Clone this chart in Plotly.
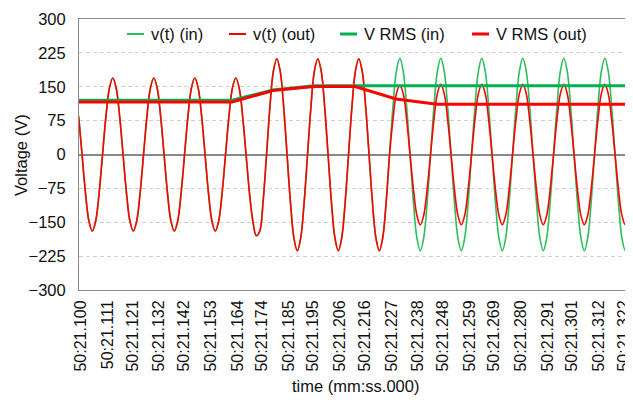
import plotly.graph_objects as go

# ---- data ----
SAMPLE_START_MS = 99.03      # time of first sample, ms after 50:21.000
SAMPLE_STEP_MS = 1.398       # sampling interval (12 samples per mains cycle)

v_in = [
    84.8, 0, -84.8, -146.8, -169.5, -146.8, -84.8, 0, 84.8, 146.8, 169.5, 146.8,
    84.8, 0, -84.8, -146.8, -169.5, -146.8, -84.8, 0, 84.8, 146.8, 169.5, 146.8,
    84.8, 0, -84.8, -146.8, -169.5, -146.8, -84.8, 0, 84.8, 146.8, 169.5, 146.8,
    84.8, 0, -84.8, -146.8, -169.5, -146.8, -84.8, 0, 84.8, 146.8, 169.5, 146.8,
    84.8, 0, -85.0, -148.0, -180.0, -170.0, -103.0, 0, 106.5, 184.5, 212.0, 184.5,
    106.5, 0, -106.5, -184.5, -213.0, -184.5, -106.5, 0, 106.5, 184.5, 212.0, 184.5,
    106.5, 0, -106.5, -184.5, -213.0, -184.5, -106.5, 0, 106.5, 184.5, 212.0, 184.5,
    106.5, 0, -106.5, -184.5, -213.0, -184.5, -106.5, 0, 106.5, 184.5, 213.0, 184.5,
    106.5, 0, -106.5, -184.5, -213.0, -184.5, -106.5, 0, 106.5, 184.5, 213.0, 184.5,
    106.5, 0, -106.5, -184.5, -213.0, -184.5, -106.5, 0, 106.5, 184.5, 213.0, 184.5,
    106.5, 0, -106.5, -184.5, -213.0, -184.5, -106.5, 0, 106.5, 184.5, 213.0, 184.5,
    106.5, 0, -106.5, -184.5, -213.0, -184.5, -106.5, 0, 106.5, 184.5, 213.0, 184.5,
    106.5, 0, -106.5, -184.5, -213.0, -184.5, -106.5, 0, 106.5, 184.5, 213.0, 184.5,
    106.5, 0, -106.5, -184.5, -213.0, -184.5, -106.5, 0, 106.5,
]

v_out = [
    84.8, 0, -84.8, -146.8, -169.5, -146.8, -84.8, 0, 84.8, 146.8, 169.5, 146.8,
    84.8, 0, -84.8, -146.8, -169.5, -146.8, -84.8, 0, 84.8, 146.8, 169.5, 146.8,
    84.8, 0, -84.8, -146.8, -169.5, -146.8, -84.8, 0, 84.8, 146.8, 169.5, 146.8,
    84.8, 0, -84.8, -146.8, -169.5, -146.8, -84.8, 0, 84.8, 146.8, 169.5, 146.8,
    84.8, 0, -85.0, -148.0, -180.0, -170.0, -103.0, 0, 106.5, 184.5, 212.0, 184.5,
    106.5, 0, -106.5, -184.5, -213.0, -184.5, -106.5, 0, 106.5, 184.5, 212.0, 184.5,
    106.5, 0, -106.5, -184.5, -213.0, -184.5, -106.5, 0, 106.5, 184.5, 212.0, 184.5,
    106.5, 0, -106.5, -184.5, -213.0, -184.5, -106.5, 0, 77.8, 134.7, 153.0, 134.7,
    77.8, 0, -77.8, -134.7, -156.0, -134.7, -77.8, 0, 77.8, 134.7, 155.5, 134.7,
    77.8, 0, -77.8, -134.7, -155.5, -134.7, -77.8, 0, 77.8, 134.7, 155.5, 134.7,
    77.8, 0, -77.8, -134.7, -155.5, -134.7, -77.8, 0, 77.8, 134.7, 155.5, 134.7,
    77.8, 0, -77.8, -134.7, -155.5, -134.7, -77.8, 0, 77.8, 134.7, 155.5, 134.7,
    77.8, 0, -77.8, -134.7, -155.5, -134.7, -77.8, 0, 77.8, 134.7, 155.5, 134.7,
    77.8, 0, -77.8, -134.7, -155.5, -134.7, -77.8, 0, 77.8,
]

# RMS values, one per cycle (ms after 50:21.000)
rms_time = [94.70, 111.47, 128.25, 145.02, 161.80, 178.58, 195.35, 212.13,
            228.90, 245.68, 262.46, 279.23, 296.00, 312.79, 329.57]
rms_in = [120.0, 120.0, 120.0, 120.0, 120.0, 143.0, 152.0, 152.0,
          152.0, 152.0, 152.0, 152.0, 152.0, 152.0, 152.0]
rms_out = [116.5, 116.5, 116.5, 116.5, 116.5, 141.5, 150.5, 150.5,
           123.0, 111.5, 111.5, 111.5, 111.5, 111.5, 111.5]

x_tick_labels = ["50:21.100", "50:21.111", "50:21.121", "50:21.132", "50:21.142",
                 "50:21.153", "50:21.164", "50:21.174", "50:21.185", "50:21.195",
                 "50:21.206", "50:21.216", "50:21.227", "50:21.238", "50:21.248",
                 "50:21.259", "50:21.269", "50:21.280", "50:21.291", "50:21.301",
                 "50:21.312", "50:21.322"]
y_ticks = [-300, -225, -150, -75, 0, 75, 150, 225, 300]
series_names = ["v(t) (in)", "v(t) (out)", "V RMS (in)", "V RMS (out)"]

# ---- figure ----
t = [SAMPLE_START_MS + i * SAMPLE_STEP_MS for i in range(len(v_in))]
tick_pos = [float(lbl.split(".")[1]) for lbl in x_tick_labels]

GREEN_THIN = "#2DBE5C"
GREEN = "#00B050"
RED = "#FF0000"
FONT = "Liberation Sans, Arial, sans-serif"
TXT = "#111111"

styles = [dict(color=GREEN_THIN, width=1.6), dict(color=RED, width=1.6),
          dict(color=GREEN, width=3), dict(color=RED, width=3)]

fig = go.Figure()
fig.add_trace(go.Scatter(x=t, y=v_in, name=series_names[0], mode="lines",
                         line=dict(**styles[0], shape="spline")))
fig.add_trace(go.Scatter(x=t, y=v_out, name=series_names[1], mode="lines",
                         line=dict(**styles[1], shape="spline")))
fig.add_trace(go.Scatter(x=rms_time, y=rms_in, name=series_names[2], mode="lines",
                         line=styles[2]))
fig.add_trace(go.Scatter(x=rms_time, y=rms_out, name=series_names[3], mode="lines",
                         line=styles[3]))

# page body has an 8px margin: size the figure so it fits the 633x405 window
OFF = 8
W, H = 633 - OFF, 405 - OFF
# plot area in window pixels: x 79..632, y 19..290
ML, MT = 79 - OFF, 19 - OFF
MR = W - (632 - OFF)
MB = H - (290 - OFF)
PW, PH = W - ML - MR, H - MT - MB


def px_x(xw):
    return (xw - OFF - ML) / PW


def px_y(yw):
    return 1 - (yw - OFF - MT) / PH


key_x = [127, 229, 340, 472]
leg_y = 34
shapes, annots = [], []
for name, st, kx in zip(series_names, styles, key_x):
    shapes.append(dict(type="line", xref="paper", yref="paper",
                       x0=px_x(kx), x1=px_x(kx + 17), y0=px_y(leg_y), y1=px_y(leg_y),
                       line=dict(color=st["color"], width=2 if st["width"] < 2 else 3)))
    annots.append(dict(xref="paper", yref="paper", x=px_x(kx + 22), y=px_y(leg_y),
                       xanchor="left", yanchor="middle", showarrow=False, text=name,
                       font=dict(size=16.5, color=TXT, family=FONT)))
annots.append(dict(xref="paper", yref="paper", x=0.5, y=px_y(386),
                   xanchor="center", yanchor="middle", showarrow=False,
                   text="time (mm:ss.000)", font=dict(size=16.5, color=TXT, family=FONT)))
annots.append(dict(xref="paper", yref="paper", x=px_x(21), y=px_y(155),
                   xanchor="center", yanchor="middle", showarrow=False, textangle=-90,
                   text="Voltage (V)", font=dict(size=16.5, color=TXT, family=FONT)))

fig.update_layout(
    width=W, height=H,
    margin=dict(l=ML, r=MR, t=MT, b=MB),
    paper_bgcolor="white", plot_bgcolor="white",
    font=dict(family=FONT, size=16, color=TXT),
    showlegend=False,
    shapes=shapes, annotations=annots,
)
fig.update_xaxes(
    range=[99.18, 325.45], automargin=False,
    tickmode="array", tickvals=tick_pos, ticktext=x_tick_labels,
    tickangle=-90, tickfont=dict(size=16), ticklabeloverflow="allow",
    showgrid=False, zeroline=False,
    showline=True, linecolor="#898989", linewidth=1, mirror=True,
    ticks="", ticklabelstandoff=3,
)
fig.update_yaxes(
    range=[-300, 300], automargin=False,
    tickmode="array", tickvals=y_ticks,
    showgrid=True, gridcolor="#D0D0D0", griddash="4px,3px", gridwidth=1,
    zeroline=True, zerolinecolor="#898989", zerolinewidth=1.5,
    showline=True, linecolor="#898989", linewidth=1, mirror=True,
    ticks="", tickfont=dict(size=16.5), ticklabelstandoff=9,
)

fig.write_html("out.html")
